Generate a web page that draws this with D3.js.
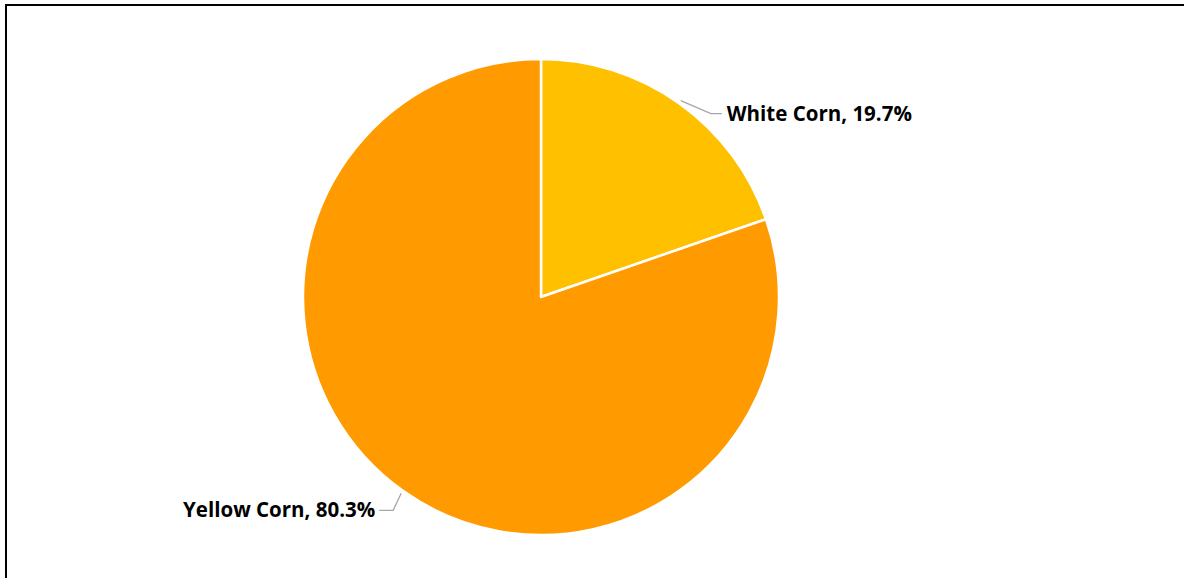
<!DOCTYPE html>
<html>
<head>
<meta charset="utf-8">
<script src="https://cdn.jsdelivr.net/npm/d3@7"></script>
<style>
  html, body { margin: 0; padding: 0; background: #fff; overflow: hidden; }
  svg { display: block; }
  .label { font-family: "Open Sans", "Liberation Sans", Arial, sans-serif; font-weight: bold; font-size: 20.5px; fill: #000; }
</style>
</head>
<body>
<svg id="chart"></svg>
<script>
// Data
const categories = ['White Corn', 'Yellow Corn'];
const shares = [19.7, 80.3];
const colors = ['#FFC000', '#FF9A00'];

const width = 1184;
const height = 578;

const svg = d3.select('#chart')
  .attr('width', width)
  .attr('height', height);

// Outer frame: only its top and left edges fall inside the picture
svg.append('path')
  .attr('d', `M6,${height} V5 H${width}`)
  .attr('fill', 'none')
  .attr('stroke', '#000')
  .attr('stroke-width', 2);

const cx = 541, cy = 297, radius = 238;

const pie = d3.pie().sort(null).value(d => d.value);
const arcs = pie(categories.map((c, i) => ({ name: c, value: shares[i], color: colors[i] })));

const arc = d3.arc().innerRadius(0).outerRadius(radius);
const edge = d3.arc().innerRadius(radius + 3).outerRadius(radius + 3);

const g = svg.append('g').attr('transform', `translate(${cx},${cy})`);

g.selectAll('path.slice')
  .data(arcs)
  .enter()
  .append('path')
  .attr('class', 'slice')
  .attr('d', arc)
  .attr('fill', d => d.data.color)
  .attr('stroke', '#fff')
  .attr('stroke-width', 2.5)
  .attr('stroke-linejoin', 'round');

// Leader line offsets: elbow and end relative to the slice's edge point
const leaders = [
  { elbow: [30, 13], end: [41, 13], anchor: 'start', dx: 5 },
  { elbow: [-8, 17], end: [-22, 17], anchor: 'end', dx: -4 }
];

arcs.forEach((d, i) => {
  const [sx, sy] = edge.centroid(d);
  const L = leaders[i];
  const ex = sx + L.elbow[0], ey = sy + L.elbow[1];
  const tx = sx + L.end[0], ty = sy + L.end[1];

  g.append('polyline')
    .attr('points', `${sx},${sy} ${ex},${ey} ${tx},${ty}`)
    .attr('fill', 'none')
    .attr('stroke', '#A6A6A6')
    .attr('stroke-width', 1.3);

  g.append('text')
    .attr('class', 'label')
    .attr('x', tx + L.dx)
    .attr('y', ty)
    .attr('dy', '0.35em')
    .attr('text-anchor', L.anchor)
    .text(`${d.data.name}, ${d.data.value.toFixed(1)}%`);
});
</script>
</body>
</html>
